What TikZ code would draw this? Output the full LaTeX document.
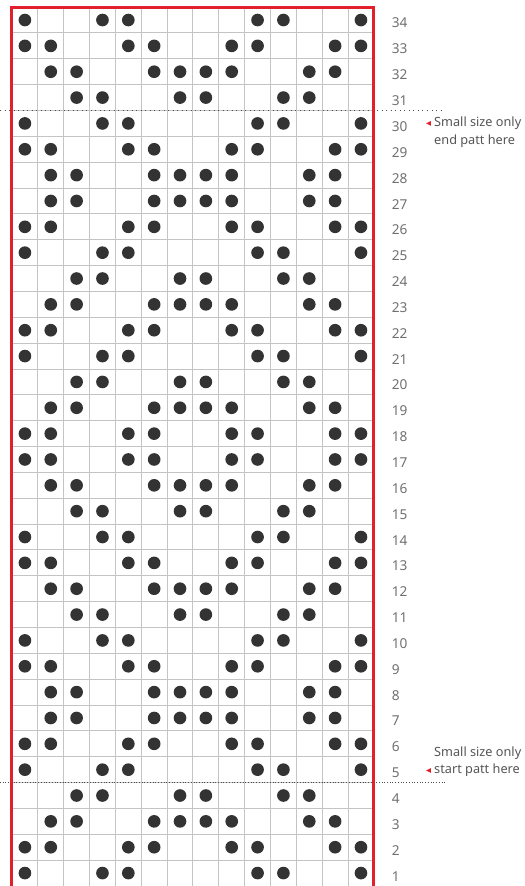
\documentclass[tikz,border=0pt]{standalone}
\usepackage{fontspec}
\setmainfont{Noto Sans}
\usepackage{tikz}
\usetikzlibrary{arrows.meta}
\definecolor{frameRed}{HTML}{E3202A}
\definecolor{dotDark}{HTML}{333333}
\definecolor{cellLine}{HTML}{C4C4C4}
\definecolor{labelGrey}{HTML}{707070}
\definecolor{noteGrey}{HTML}{555555}

\begin{document}
\begin{tikzpicture}[x=0.5cm, y=0.5cm, >=Latex,
  stitch/.style={fill=dotDark},
  rowlabel/.style={anchor=west, inner sep=0pt, text=labelGrey, font=\fontsize{7.5}{9}\selectfont},
  note/.style={anchor=west, inner sep=0pt, text=noteGrey, font=\fontsize{7}{9}\selectfont},
  sizeline/.style={draw=black!70, line width=0.5pt}]
\useasboundingbox (-0.464,0) rectangle (19.845,34.275);
\foreach \c in {1,...,13} {\draw[cellLine, line width=0.55pt] (\c,0) -- (\c,34);}
\foreach \r in {1,...,33} {\draw[cellLine, line width=0.55pt] (0,\r) -- (14,\r);}
% dot rows, grouped by repeat
\foreach \r in {1,5,10,14,21,25,30,34} {\foreach \c in {1,4,5,10,11,14} {\fill[stitch] (\c-0.5,\r-0.5) circle (0.245);}}
\foreach \r in {2,6,9,13,17,18,22,26,29,33} {\foreach \c in {1,2,5,6,9,10,13,14} {\fill[stitch] (\c-0.5,\r-0.5) circle (0.245);}}
\foreach \r in {3,7,8,12,16,19,23,27,28,32} {\foreach \c in {2,3,6,7,8,9,12,13} {\fill[stitch] (\c-0.5,\r-0.5) circle (0.245);}}
\foreach \r in {4,11,15,20,24,31} {\foreach \c in {3,4,7,8,11,12} {\fill[stitch] (\c-0.5,\r-0.5) circle (0.245);}}
% size lines
\draw[sizeline, dotted] (-0.464,30) -- (16.75,30);
\draw[sizeline, densely dotted] (-0.464,4) -- (16.75,4);
\draw[frameRed, line width=1.65pt] (0,0) -- (0,34) -- (14,34) -- (14,0);
\foreach \r in {1,...,34} {\node[rowlabel] (row\r) at (14.68,\r-0.62) {\r};}
% notes
\fill[frameRed] (16.02,29.5) -- (16.2,29.59) -- (16.2,29.41) -- cycle;
\node[note] (endA) at (16.32,29.5) {Small size only};
\node[note] (endB) at (16.32,28.83) {end patt here};
\fill[frameRed] (16.02,4.47) -- (16.2,4.56) -- (16.2,4.38) -- cycle;
\node[note] (startA) at (16.32,5.15) {Small size only};
\node[note] (startB) at (16.32,4.48) {start patt here};
\end{tikzpicture}
\end{document}
